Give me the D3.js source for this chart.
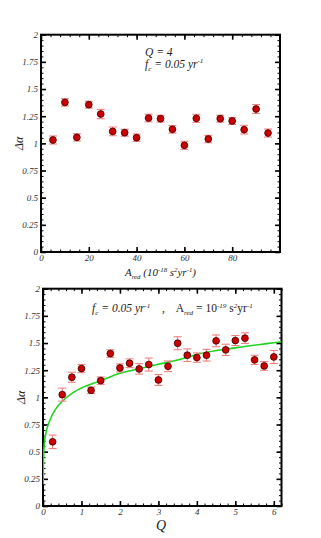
<!DOCTYPE html>
<html>
<head>
<meta charset="utf-8">
<script src="https://cdn.jsdelivr.net/npm/d3@7"></script>
<style>
  body { margin: 0; background: #fff; }
  svg { display: block; }
  text { font-family: "Liberation Serif", "DejaVu Serif", serif; white-space: pre; }
</style>
</head>
<body>
<div id="chart"></div>
<script>
// top panel: delta alpha vs A_red (Q = 4)
var aredValues = [5, 10, 15, 20, 25, 30, 35, 40, 45, 50, 55, 60, 65, 70, 75, 80, 85, 90, 95];
var aredAlpha = [1.031, 1.377, 1.055, 1.356, 1.270, 1.110, 1.098, 1.052, 1.233, 1.227, 1.129, 0.982, 1.230, 1.040, 1.227, 1.206, 1.126, 1.316, 1.095];
var aredErr = [0.037, 0.034, 0.034, 0.032, 0.043, 0.040, 0.032, 0.034, 0.035, 0.032, 0.035, 0.037, 0.037, 0.034, 0.032, 0.032, 0.040, 0.041, 0.037];
var aredTicks = [0, 20, 40, 60, 80];

// bottom panel: delta alpha vs Q
var qValues = [0.25, 0.5, 0.75, 1, 1.25, 1.5, 1.75, 2, 2.25, 2.5, 2.75, 3, 3.25, 3.5, 3.75, 4, 4.25, 4.5, 4.75, 5, 5.25, 5.5, 5.75, 6];
var qAlpha = [0.591, 1.025, 1.185, 1.265, 1.065, 1.154, 1.403, 1.271, 1.314, 1.262, 1.302, 1.160, 1.286, 1.498, 1.388, 1.366, 1.388, 1.520, 1.437, 1.523, 1.545, 1.345, 1.289, 1.372];
var qErr = [0.062, 0.060, 0.046, 0.038, 0.030, 0.034, 0.035, 0.037, 0.040, 0.048, 0.060, 0.050, 0.049, 0.060, 0.058, 0.043, 0.054, 0.054, 0.052, 0.046, 0.049, 0.042, 0.040, 0.060];
var qTicks = [0, 1, 2, 3, 4, 5, 6];

// green fit curve
var fitQ = [0.003, 0.01, 0.02, 0.043, 0.095, 0.18, 0.31, 0.49, 0.79, 1, 1.5, 2, 2.5, 3, 3.5, 4, 5, 6.2];
var fitAlpha = [0.20, 0.38, 0.50, 0.60, 0.70, 0.79, 0.883, 0.96, 1.046, 1.086, 1.153, 1.221, 1.264, 1.304, 1.343, 1.395, 1.455, 1.512];

var alphaTicks = [0, 0.25, 0.5, 0.75, 1, 1.25, 1.5, 1.75, 2];

var width = 321, height = 538;

var svg = d3.select("#chart").append("svg")
    .attr("width", width)
    .attr("height", height);

// writes a text made of parts like {t: "red", s: "sub"}
function richText(sel, parts, size) {
    var shift = 0;
    parts.forEach(function(p) {
        var target = p.s == "sub" ? size * 0.28 : p.s == "sup" ? -size * 0.38 : 0;
        var ts = sel.append("tspan")
            .attr("dy", target - shift)
            .style("font-size", (p.s ? size * 0.62 : size) + "px")
            .text(p.t);
        if (p.italic === false) ts.style("font-style", "normal");
        shift = target;
    });
}

function drawPanel(o) {
    var g = svg.append("g");
    var x = d3.scaleLinear().domain(o.xDomain).range([o.left, o.right]);
    var y = d3.scaleLinear().domain([0, 2]).range([o.bottom, o.top]);

    var clipId = "clip" + o.id;
    svg.append("clipPath").attr("id", clipId)
        .append("rect")
        .attr("x", o.left).attr("y", o.top)
        .attr("width", o.right - o.left).attr("height", o.bottom - o.top);

    var minorX = d3.range(0, o.xDomain[1] + 1e-9, o.xMinor);
    var minorY = d3.range(0, 2.0001, 0.05);

    function styleAxis(a, w) {
        a.select(".domain").remove();
        a.selectAll("line").attr("stroke", "#000").attr("stroke-width", w);
        a.selectAll("text")
            .style("font-size", "9px")
            .style("font-style", "italic")
            .attr("fill", "#333");
    }

    // minor ticks, all four sides, pointing inward
    styleAxis(g.append("g").attr("transform", "translate(0," + o.bottom + ")")
        .call(d3.axisBottom(x).tickValues(minorX).tickSize(-2.5).tickFormat("")), 1);
    styleAxis(g.append("g").attr("transform", "translate(0," + o.top + ")")
        .call(d3.axisTop(x).tickValues(minorX).tickSize(-2.5).tickFormat("")), 1);
    styleAxis(g.append("g").attr("transform", "translate(" + o.left + ",0)")
        .call(d3.axisLeft(y).tickValues(minorY).tickSize(-2.5).tickFormat("")), 1);
    styleAxis(g.append("g").attr("transform", "translate(" + o.right + ",0)")
        .call(d3.axisRight(y).tickValues(minorY).tickSize(-2.5).tickFormat("")), 1);

    // major ticks
    styleAxis(g.append("g").attr("transform", "translate(0," + o.bottom + ")")
        .call(d3.axisBottom(x).tickValues(o.xTicks).tickSize(-5).tickPadding(3).tickFormat(String)), 1.6);
    styleAxis(g.append("g").attr("transform", "translate(0," + o.top + ")")
        .call(d3.axisTop(x).tickValues(o.xTicks).tickSize(-5).tickFormat("")), 1.6);
    styleAxis(g.append("g").attr("transform", "translate(" + o.left + ",0)")
        .call(d3.axisLeft(y).tickValues(alphaTicks).tickSize(-5).tickPadding(3).tickFormat(String)), 1.6);
    styleAxis(g.append("g").attr("transform", "translate(" + o.right + ",0)")
        .call(d3.axisRight(y).tickValues(alphaTicks).tickSize(-5).tickFormat("")), 1.6);

    // frame
    g.append("rect")
        .attr("x", o.left).attr("y", o.top)
        .attr("width", o.right - o.left).attr("height", o.bottom - o.top)
        .attr("fill", "none").attr("stroke", "#000").attr("stroke-width", 2);

    if (o.fitX) {
        var fit = o.fitX.map(function(d, i) { return [d, o.fitY[i]]; });
        g.append("path")
            .datum(fit)
            .attr("clip-path", "url(#" + clipId + ")")
            .attr("fill", "none")
            .attr("stroke", "#1ed41e")
            .attr("stroke-width", 1.6)
            .attr("d", d3.line().x(function(d) { return x(d[0]); }).y(function(d) { return y(d[1]); })
                .curve(d3.curveMonotoneX));
    }

    var pts = o.xs.map(function(d, i) { return {x: d, y: o.ys[i], e: o.errs[i]}; });

    var eb = g.append("g").attr("stroke", "#f08080").attr("stroke-width", 1.1)
        .selectAll("g").data(pts).enter().append("g");
    eb.append("line")
        .attr("x1", function(d) { return x(d.x); }).attr("x2", function(d) { return x(d.x); })
        .attr("y1", function(d) { return y(d.y - d.e); }).attr("y2", function(d) { return y(d.y + d.e); });
    eb.append("line")
        .attr("x1", function(d) { return x(d.x) - 4; }).attr("x2", function(d) { return x(d.x) + 4; })
        .attr("y1", function(d) { return y(d.y - d.e); }).attr("y2", function(d) { return y(d.y - d.e); });
    eb.append("line")
        .attr("x1", function(d) { return x(d.x) - 4; }).attr("x2", function(d) { return x(d.x) + 4; })
        .attr("y1", function(d) { return y(d.y + d.e); }).attr("y2", function(d) { return y(d.y + d.e); });

    g.append("g").selectAll("circle").data(pts).enter().append("circle")
        .attr("cx", function(d) { return x(d.x); })
        .attr("cy", function(d) { return y(d.y); })
        .attr("r", 3.4)
        .attr("fill", "#cc0000")
        .attr("stroke", "#3a0000")
        .attr("stroke-width", 0.8);

    // y label
    g.append("text")
        .attr("transform", "translate(" + (o.left - 18) + "," + ((o.top + o.bottom) / 2) + ") rotate(-90)")
        .attr("text-anchor", "middle")
        .style("font-style", "italic")
        .style("font-size", "12px")
        .attr("fill", "#222")
        .text("\u0394\u03b1");

    return {x: x, y: y};
}

drawPanel({
    id: 1, left: 41, right: 280, top: 34.7, bottom: 252,
    xDomain: [0, 100], xTicks: aredTicks, xMinor: 4,
    xs: aredValues, ys: aredAlpha, errs: aredErr
});

drawPanel({
    id: 2, left: 43, right: 281.5, top: 288.7, bottom: 506,
    xDomain: [0, 6.2], xTicks: qTicks, xMinor: 0.2,
    xs: qValues, ys: qAlpha, errs: qErr,
    fitX: fitQ, fitY: fitAlpha
});

// annotations
var t1 = svg.append("text").attr("x", 145).attr("y", 56)
    .style("font-style", "italic").style("font-size", "11.5px").attr("fill", "#222");
richText(t1, [{t: "Q = 4"}], 11.5);
var t2 = svg.append("text").attr("x", 145).attr("y", 67.5)
    .style("font-style", "italic").style("font-size", "11.5px").attr("fill", "#222");
richText(t2, [{t: "f"}, {t: "c", s: "sub"}, {t: " = 0.05 yr"}, {t: "-1", s: "sup"}], 11.5);

var t3 = svg.append("text").attr("x", 160.5).attr("y", 276).attr("text-anchor", "middle")
    .style("font-style", "italic").style("font-size", "11px").attr("fill", "#222");
richText(t3, [{t: "A"}, {t: "red", s: "sub"}, {t: " (10"}, {t: "-18", s: "sup"}, {t: " s"}, {t: "2", s: "sup"}, {t: "yr"}, {t: "-1", s: "sup"}, {t: ")"}], 11);

var t4 = svg.append("text").attr("x", 92).attr("y", 312)
    .style("font-style", "italic").style("font-size", "11.5px").attr("fill", "#222");
richText(t4, [{t: "f"}, {t: "c", s: "sub"}, {t: " = 0.05 yr"}, {t: "-1", s: "sup"},
    {t: "    ,    A", italic: false}, {t: "red", s: "sub"}, {t: " = 10", italic: false}, {t: "-19", s: "sup"},
    {t: " s", italic: false}, {t: "2", s: "sup"}, {t: "yr", italic: false}, {t: "-1", s: "sup"}], 11.5);

svg.append("text").attr("x", 161).attr("y", 530).attr("text-anchor", "middle")
    .style("font-style", "italic").style("font-size", "14px").attr("fill", "#222")
    .text("Q");
</script>
</body>
</html>
